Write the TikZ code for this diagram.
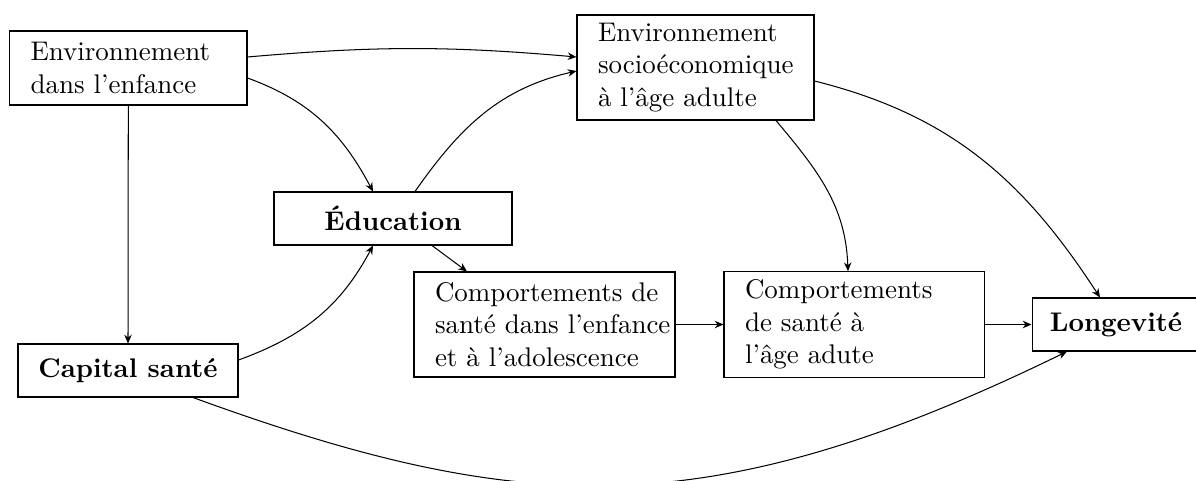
\documentclass[tikz,border=0pt]{standalone}
\usepackage{fontspec}
\usetikzlibrary{arrows.meta}
\newlength{\pxu}\setlength{\pxu}{0.3876pt}
\begin{document}
\begin{tikzpicture}[x=0.3876pt,y=0.3876pt,
  txt/.style={draw, rectangle, align=left, inner xsep=21\pxu, inner ysep=3pt,
    font=\fontsize{10.45}{12.7}\selectfont},
  bld/.style={draw, rectangle, inner sep=0pt, font=\fontsize{10.45}{12.7}\selectfont\bfseries},
  arr/.style={-{Stealth[length=3.4pt,width=2.9pt,inset=1.1pt]}}]
\useasboundingbox (0,0) rectangle (1196,-481);
\node[txt, text width=195.4\pxu, minimum height=74\pxu] (ee) at (128.3,-68) {\mbox{Environnement}\\\mbox{dans l'enfance}};
\node[txt, text width=195\pxu, minimum height=105\pxu] (se) at (695.5,-67.5) {\mbox{Environnement}\\\mbox{socioéconomique}\\\mbox{à l'âge adulte}};
\node[bld, minimum width=238\pxu, minimum height=53\pxu] (ed) at (393,-218.5) {Éducation};
\node[bld, minimum width=220\pxu, minimum height=53\pxu] (cs) at (128,-370.5) {Capital santé};
\node[txt, text width=219\pxu, minimum height=105\pxu] (ce) at (544.5,-324.5) {\mbox{Comportements de}\\\mbox{santé dans l'enfance}\\\mbox{et à l'adolescence}};
\node[txt, text width=218\pxu, minimum height=105\pxu] (ca) at (854,-324.5) {\mbox{Comportements}\\\mbox{de santé à}\\\mbox{l'âge adute}};
\node[bld, minimum width=168\pxu, minimum height=53\pxu] (lg) at (1116,-324.5) {Longevité};

\draw[arr] ([yshift=11\pxu]ee.east) to[out=5,in=175] ([yshift=10.5\pxu]se.west);
\draw[arr] ([yshift=-10\pxu]ee.east) to[out=-20,in=118] ([xshift=-20\pxu]ed.north);
\draw[arr] ([xshift=22\pxu]ed.north) to[out=55,in=193] ([yshift=-3.5\pxu]se.west);
\draw[arr] (ee.south) -- (cs.north);
\draw[arr] ([yshift=10.5\pxu]cs.east) to[out=20,in=242] ([xshift=-20\pxu]ed.south);
\draw[arr] ([xshift=39\pxu]ed.south) -- ([xshift=-77.5\pxu]ce.north);
\draw[arr] ([xshift=65\pxu]cs.south) to[out=-20,in=206,out looseness=1.02,in looseness=1.17] ([xshift=-49\pxu]lg.south);
\draw[arr] (ce.east) -- (ca.west);
\draw[arr] (ca.east) -- (lg.west);
\draw[arr] ([xshift=80.5\pxu]se.south) to[out=-50,in=92] ([xshift=-6\pxu]ca.north);
\draw[arr] ([yshift=-13.5\pxu]se.east) to[out=-14,in=123] ([xshift=-16\pxu]lg.north);
\end{tikzpicture}
\end{document}
